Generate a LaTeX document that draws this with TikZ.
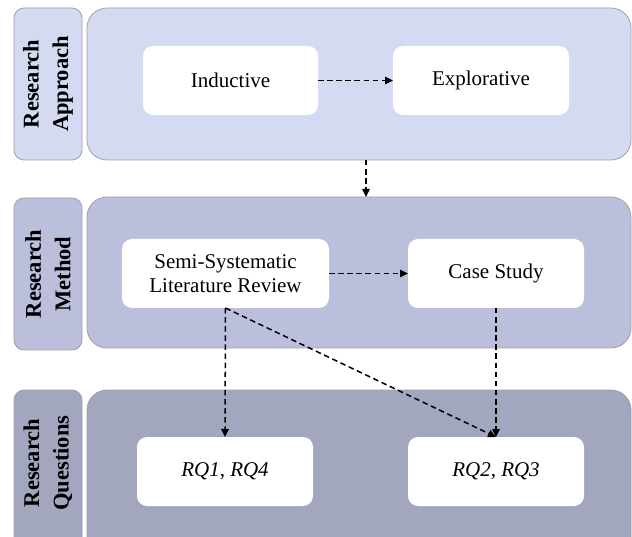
\documentclass[tikz,border=0pt]{standalone}
\usepackage{fontspec}
\setmainfont{Liberation Serif}
\usetikzlibrary{arrows.meta,calc}

\definecolor{bandA}{HTML}{D5DAF3}
\definecolor{bandB}{HTML}{BBBFDB}
\definecolor{bandC}{HTML}{A2A6BE}
\definecolor{edgegray}{HTML}{9EA0AA}

\tikzset{
  band/.style={draw=edgegray, line width=0.8pt, rounded corners=20pt,
    inner sep=0pt, outer sep=0pt, minimum width=544pt},
  tag/.style={draw=edgegray, line width=0.8pt, rounded corners=10pt,
    inner sep=0pt, outer sep=0pt, minimum width=68pt},
  tagtext/.style={rotate=90, align=center,
    font=\fontsize{22.5}{29.5}\selectfont\bfseries},
  item/.style={fill=white, rounded corners=10pt, inner sep=0pt,
    outer sep=0pt, minimum height=69pt, align=center,
    font=\fontsize{21}{23.5}\selectfont},
  flow/.style={dash pattern=on 5.5pt off 3.6pt, line width=1.5pt,
    -{Triangle[length=8pt,width=7.5pt]}}
}

\begin{document}
\begin{tikzpicture}[x=1pt,y=-1pt]
  \useasboundingbox (0,0) rectangle (632,537);
  \clip (0,0) rectangle (632,537);

  % bands
  \node[band, fill=bandA, minimum height=152pt] (bandOne) at (359,84) {};
  \node[band, fill=bandB, minimum height=151pt] (bandTwo) at (359,272.5) {};
  \node[band, fill=bandC, minimum height=170pt] (bandThree) at (359,475) {};

  % side tags
  \node[tag, fill=bandA, minimum height=152pt] (tagOne) at (48,84) {};
  \node[tag, fill=bandB, minimum height=152pt] (tagTwo) at (48,274) {};
  \node[tag, fill=bandC, minimum height=170pt] (tagThree) at (48,475) {};
  \node[tagtext] (tagOneText) at (48,84) {Research\\Approach};
  \node[tagtext] (tagTwoText) at (48,274) {Research\\Method};
  \node[tagtext] (tagThreeText) at (48,463) {Research\\Questions};

  % boxes
  \node[item, minimum width=175pt] (ind) at (230.5,80.5) {Inductive};
  \node[item, minimum width=176pt] (expl) at (481,80.5) {Explorative};
  \node[item, minimum width=207pt] (slr) at (225.5,273.5) {Semi-Systematic\\Literature Review};
  \node[item, minimum width=176pt] (cs) at (496,273.5) {Case Study};
  \node[item, minimum width=176pt] (rqa) at (225,471.5) {\itshape RQ1, RQ4};
  \node[item, minimum width=176pt] (rqb) at (496,471.5) {\itshape RQ2, RQ3};

  % connectors
  \draw[flow] (ind.east) -- (expl.west);
  \draw[flow] ($(bandOne.south)+(7,0)$) -- ($(bandTwo.north)+(7,0)$);
  \draw[flow] (slr.east) -- (cs.west);
  \draw[flow] (slr.south) -- (rqa.north);
  \draw[flow] (slr.south) -- (rqb.north);
  \draw[flow] (cs.south) -- (rqb.north);
\end{tikzpicture}
\end{document}
